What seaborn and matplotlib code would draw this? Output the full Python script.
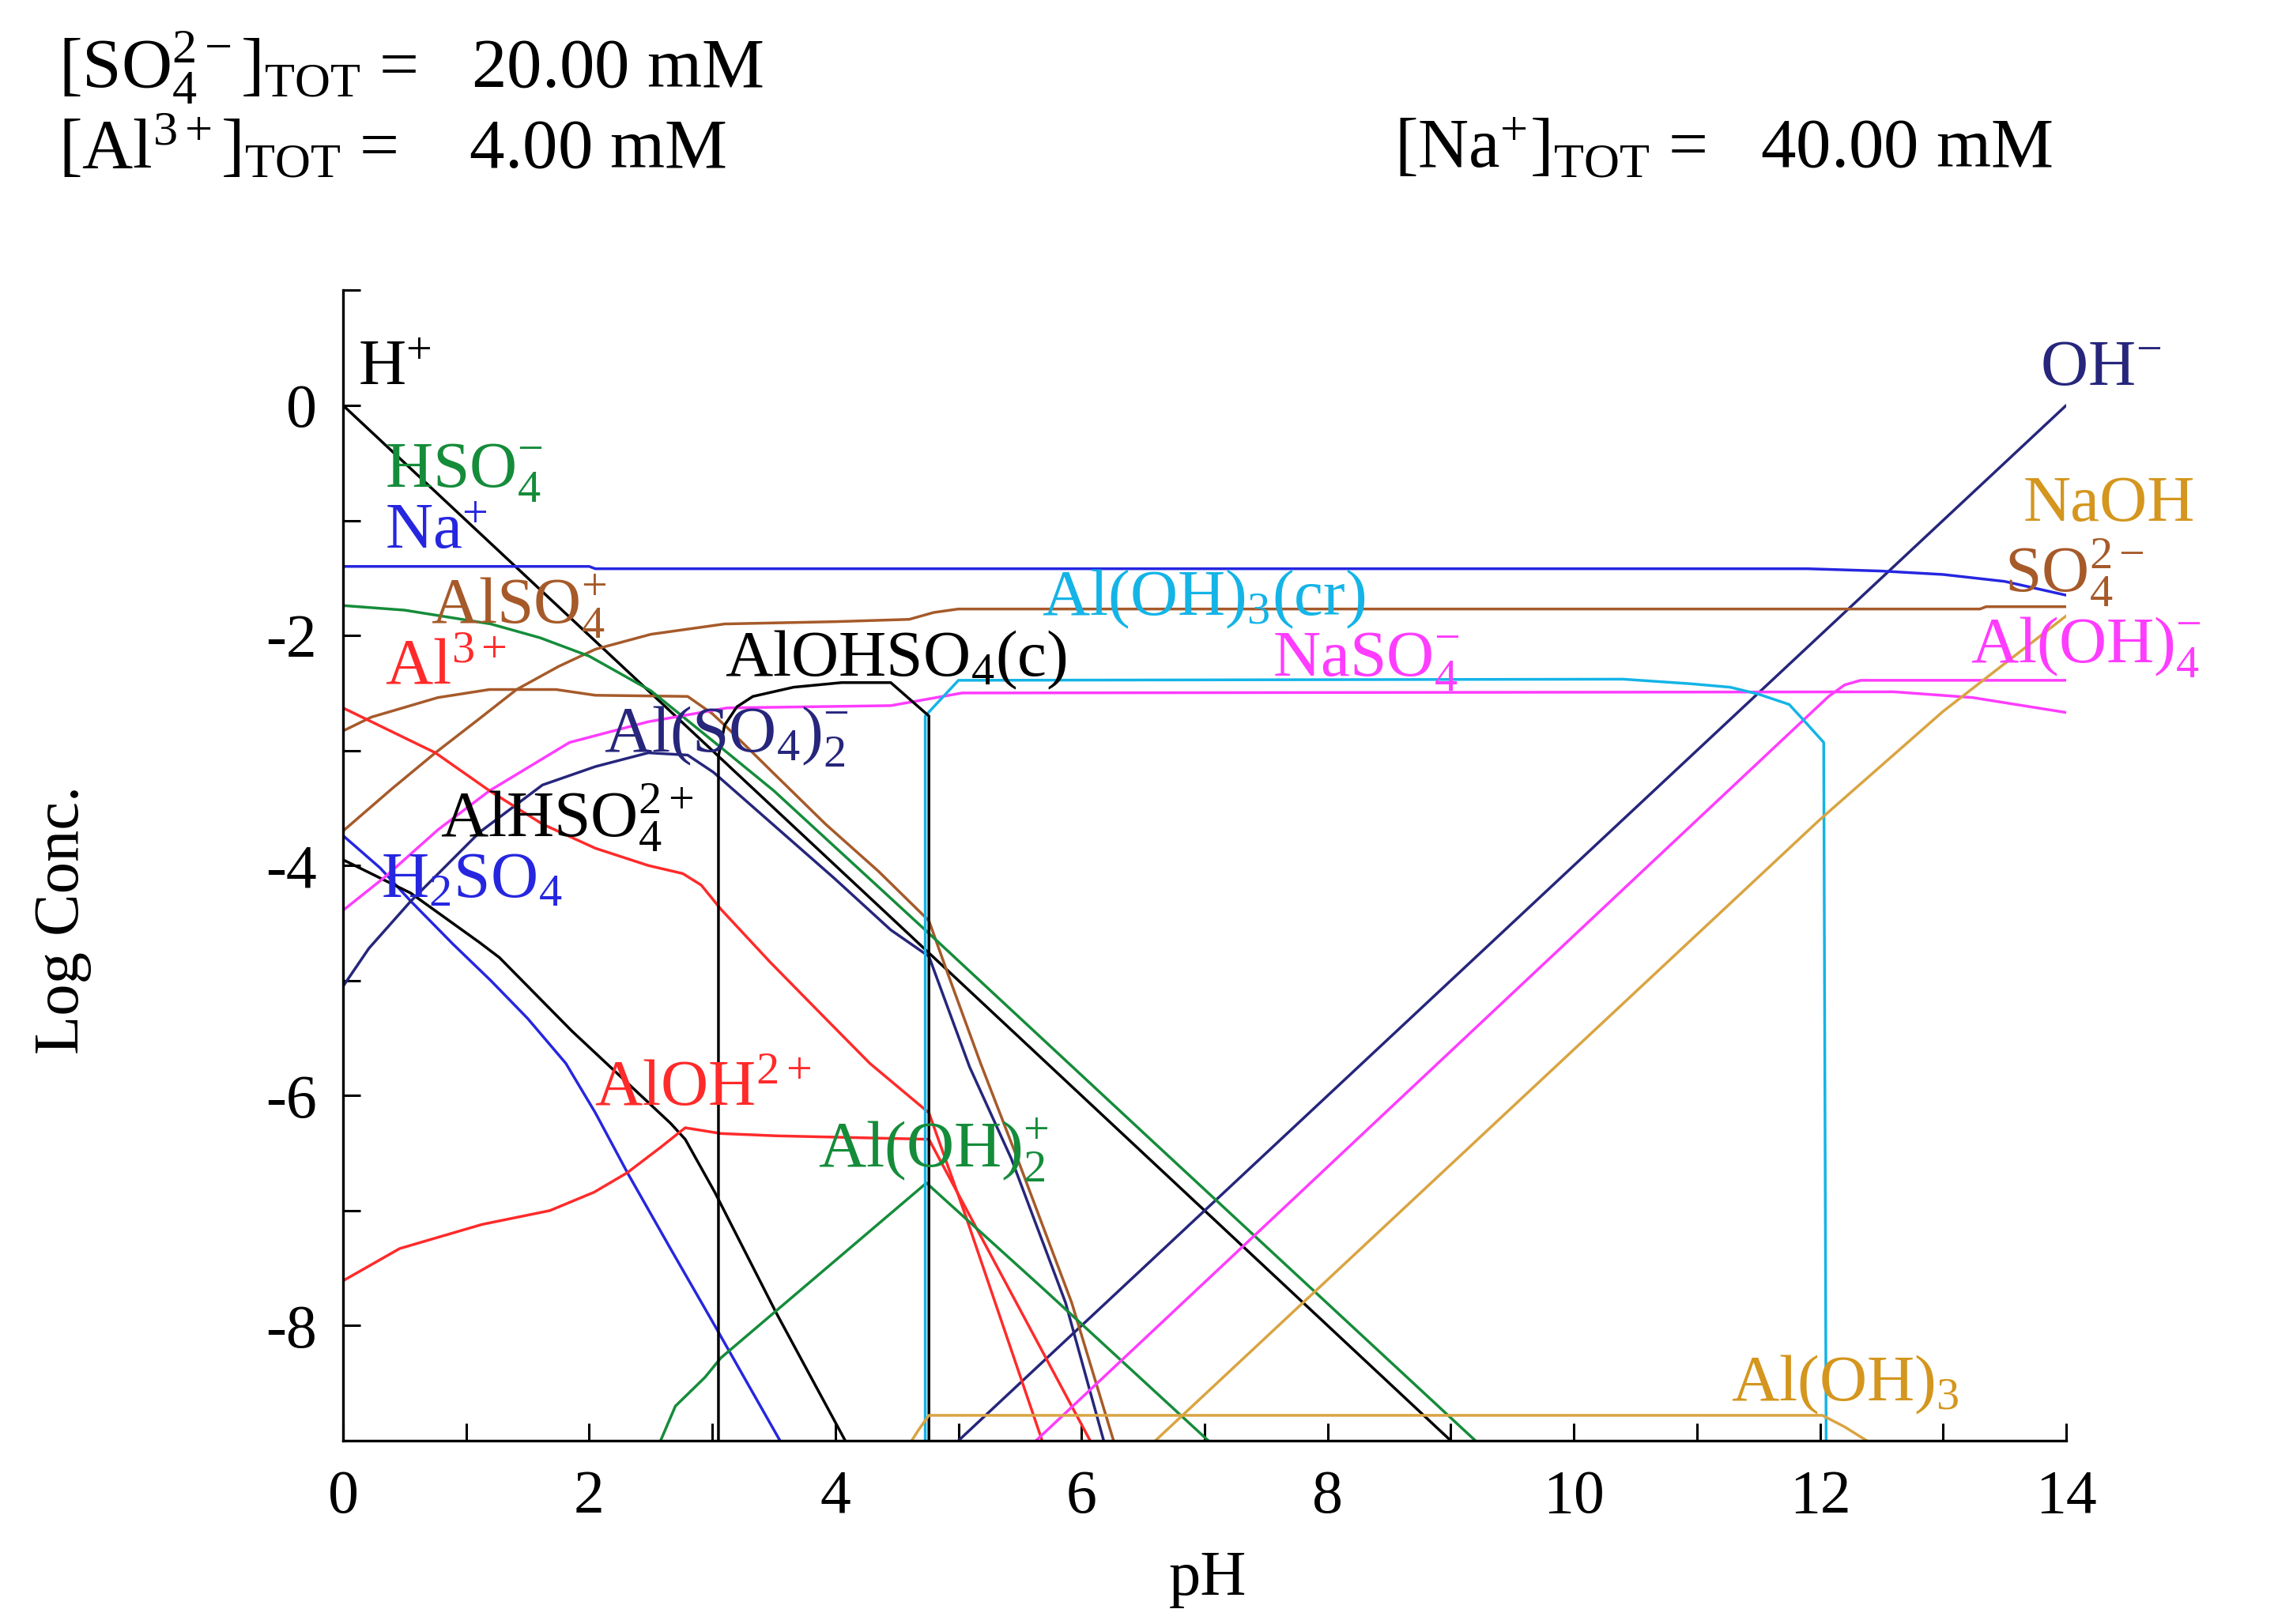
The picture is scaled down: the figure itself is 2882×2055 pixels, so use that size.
import pandas as pd
import seaborn as sns
import matplotlib.pyplot as plt

# Curves: pH and log concentration
h_ph = [0, 4.76, 9.0]
h_log = [0, -4.76, -9.0]

oh_ph = [5.0, 14.0]
oh_log = [-9.0, 0.0]

na_ph = [0, 2.0, 2.05, 11.9, 12.5, 13.0, 13.5, 14.0]
na_log = [-1.40, -1.40, -1.42, -1.42, -1.44, -1.47, -1.53, -1.65]

so4_ph = [0, 0.4, 0.75, 1.1, 1.41, 1.75, 2.05, 2.5, 3.1, 4.0, 4.6, 4.8, 5.0, 13.3, 13.35, 14.0]
so4_log = [-3.70, -3.33, -3.02, -2.73, -2.47, -2.27, -2.12, -1.99, -1.90, -1.88, -1.86, -1.80, -1.77, -1.77, -1.75, -1.75]

also4_ph = [0, 0.23, 0.77, 1.19, 1.73, 2.05, 2.8, 3.0, 3.12, 3.5, 3.92, 4.35, 4.76, 4.91, 5.18, 5.48, 5.92, 6.26]
also4_log = [-2.83, -2.71, -2.54, -2.47, -2.47, -2.52, -2.53, -2.68, -2.80, -3.20, -3.64, -4.05, -4.48, -4.93, -5.72, -6.55, -7.80, -9.0]

hso4_ph = [0, 0.5, 1.2, 1.6, 2.0, 2.5, 3.1, 3.5, 4.76, 6.6, 9.2]
hso4_log = [-1.74, -1.78, -1.90, -2.02, -2.18, -2.48, -3.00, -3.35, -4.59, -6.42, -9.0]

h2so4_ph = [0, 0.3, 0.55, 0.89, 1.2, 1.5, 1.81, 2.05, 2.31, 2.66, 3.02, 3.55]
h2so4_log = [-3.74, -4.02, -4.31, -4.68, -5.00, -5.33, -5.72, -6.15, -6.67, -7.33, -8.0, -9.0]

alhso4_ph = [0, 0.55, 1.11, 1.27, 1.86, 2.66, 2.78, 3.02, 3.52, 4.08]
alhso4_log = [-3.95, -4.24, -4.67, -4.80, -5.44, -6.24, -6.38, -6.84, -7.89, -9.0]

also42_ph = [0, 0.21, 0.55, 1.11, 1.62, 2.05, 2.48, 2.8, 3.01, 3.5, 3.99, 4.45, 4.76, 5.09, 5.43, 5.87, 6.18]
also42_log = [-5.05, -4.72, -4.31, -3.71, -3.30, -3.14, -3.02, -3.04, -3.19, -3.65, -4.11, -4.56, -4.79, -5.75, -6.55, -7.80, -9.0]

naso4_ph = [0, 0.34, 0.77, 1.19, 1.84, 2.48, 3.12, 4.45, 5.03, 12.6, 13.24, 14.0]
naso4_log = [-4.39, -4.10, -3.69, -3.35, -2.93, -2.75, -2.63, -2.61, -2.50, -2.49, -2.54, -2.67]

al_ph = [0, 0.75, 1.19, 1.62, 2.05, 2.48, 2.76, 2.91, 3.07, 3.47, 3.92, 4.28, 4.76, 5.06, 5.68]
al_log = [-2.63, -3.02, -3.35, -3.64, -3.85, -4.00, -4.07, -4.17, -4.38, -4.84, -5.33, -5.72, -6.15, -7.05, -9.0]

aloh_ph = [0, 0.46, 1.13, 1.68, 2.04, 2.31, 2.58, 2.78, 3.07, 3.52, 4.76, 5.14, 6.07]
aloh_log = [-7.61, -7.33, -7.12, -7.00, -6.84, -6.67, -6.45, -6.28, -6.33, -6.35, -6.38, -7.14, -9.0]

aloh2_ph = [2.58, 2.7, 2.94, 3.07, 4.74, 5.7, 7.03]
aloh2_log = [-9.0, -8.7, -8.45, -8.28, -6.76, -7.69, -9.0]

aloh4_ph = [5.63, 12.07, 12.2, 12.33, 14.0]
aloh4_log = [-9.0, -2.53, -2.43, -2.39, -2.39]

alohcr_ph = [4.73, 4.73, 5.0, 10.4, 10.95, 11.27, 11.5, 11.75, 11.87, 12.03, 12.05]
alohcr_log = [-9.0, -2.70, -2.39, -2.38, -2.42, -2.45, -2.51, -2.60, -2.74, -2.93, -9.0]

alohso4_ph = [3.05, 3.05, 3.1, 3.2, 3.33, 3.66, 4.05, 4.45, 4.76, 4.76]
alohso4_log = [-9.0, -3.05, -2.78, -2.62, -2.53, -2.45, -2.41, -2.41, -2.70, -9.0]

naoh_ph = [6.6, 12.0, 13.0, 14.0]
naoh_log = [-9.0, -3.6, -2.66, -1.83]

aloh3_ph = [4.62, 4.68, 4.76, 12.02, 12.2, 12.38]
aloh3_log = [-9.0, -8.9, -8.78, -8.78, -8.88, -9.0]

species = ['H+', 'OH-', 'Na+', 'SO4', 'AlSO4+', 'HSO4-', 'H2SO4', 'AlHSO4', 'Al(SO4)2-',
           'NaSO4-', 'Al3+', 'AlOH2+', 'Al(OH)2+', 'Al(OH)4-', 'Al(OH)3(cr)', 'AlOHSO4(c)',
           'NaOH', 'Al(OH)3']
curves = [(h_ph, h_log), (oh_ph, oh_log), (na_ph, na_log), (so4_ph, so4_log),
          (also4_ph, also4_log), (hso4_ph, hso4_log), (h2so4_ph, h2so4_log),
          (alhso4_ph, alhso4_log), (also42_ph, also42_log), (naso4_ph, naso4_log),
          (al_ph, al_log), (aloh_ph, aloh_log), (aloh2_ph, aloh2_log), (aloh4_ph, aloh4_log),
          (alohcr_ph, alohcr_log), (alohso4_ph, alohso4_log), (naoh_ph, naoh_log),
          (aloh3_ph, aloh3_log)]

black = '#000000'
green = '#158c3a'
blue = '#2626e0'
navy = '#26267c'
red = '#ff2a2a'
brown = '#a65a2a'
magenta = '#ff3cff'
cyan = '#14b4e6'
tan = '#d9a441'

palette = {'H+': black, 'OH-': navy, 'Na+': blue, 'SO4': brown, 'AlSO4+': brown,
           'HSO4-': green, 'H2SO4': blue, 'AlHSO4': black, 'Al(SO4)2-': navy,
           'NaSO4-': magenta, 'Al3+': red, 'AlOH2+': red, 'Al(OH)2+': green,
           'Al(OH)4-': magenta, 'Al(OH)3(cr)': cyan, 'AlOHSO4(c)': black,
           'NaOH': tan, 'Al(OH)3': tan}

# label text, left x (pH), baseline y (log conc), colour
labels = [
    ('H$^{+}$', 0.12, 0.18, black),
    ('HSO$_4^{-}$', 0.34, -0.71, green),
    ('Na$^{+}$', 0.34, -1.24, blue),
    ('AlSO$_4^{+}$', 0.71, -1.89, brown),
    ('Al$^{3+}$', 0.34, -2.42, red),
    ('AlOHSO$_4$(c)', 3.10, -2.35, black),
    ('Al(SO$_4$)$_2^{-}$', 2.12, -3.01, navy),
    ('AlHSO$_4^{2+}$', 0.79, -3.75, black),
    ('H$_2$SO$_4$', 0.31, -4.27, blue),
    ('AlOH$^{2+}$', 2.04, -6.09, red),
    ('Al(OH)$_2^{+}$', 3.86, -6.63, green),
    ('Al(OH)$_3$(cr)', 5.68, -1.82, cyan),
    ('NaSO$_4^{-}$', 7.55, -2.35, magenta),
    ('OH$^{-}$', 13.79, 0.18, navy),
    ('NaOH', 13.65, -1.00, '#d4961e'),
    ('SO$_4^{2-}$', 13.50, -1.62, brown),
    ('Al(OH)$_4^{-}$', 13.22, -2.23, magenta),
    ('Al(OH)$_3$', 11.28, -8.65, '#d4961e'),
]

frames = []
for name, (x, y) in zip(species, curves):
    frames.append(pd.DataFrame({'species': name, 'pH': x, 'logC': y}))
df = pd.concat(frames, ignore_index=True)

sns.set_style('ticks')
plt.rcParams['font.family'] = ['Liberation Serif', 'DejaVu Serif']
plt.rcParams['mathtext.fontset'] = 'custom'
plt.rcParams['mathtext.rm'] = 'Liberation Serif'
plt.rcParams['mathtext.it'] = 'Liberation Serif:italic'
plt.rcParams['mathtext.bf'] = 'Liberation Serif:bold'
plt.rcParams['axes.unicode_minus'] = False
plt.rcParams['text.color'] = 'black'
plt.rcParams['axes.labelcolor'] = 'black'
plt.rcParams['xtick.color'] = 'black'
plt.rcParams['ytick.color'] = 'black'

fig = plt.figure(figsize=(14.41, 10.275), dpi=200)
ax = fig.add_axes([0.1506, 0.1129, 0.907 - 0.1506, 0.8212 - 0.1129])

sns.lineplot(data=df, x='pH', y='logC', hue='species', hue_order=species,
             palette=palette, sort=False, estimator=None, legend=False,
             linewidth=1.25, ax=ax)

for txt, x, y, c in labels:
    ax.text(x, y, txt, color=c, fontsize=30, ha='left', va='baseline')

ax.set_xlim(0, 14)
ax.set_ylim(-9, 1)
ax.set_xticks(range(0, 15, 2))
ax.set_xticks(range(1, 14, 2), minor=True)
ax.set_yticks(range(-8, 1, 2))
ax.set_yticks([-7, -5, -3, -1, 1], minor=True)
ax.tick_params(which='both', direction='in', length=8, width=1.1, color='black')
ax.tick_params(axis='x', labelsize=28, pad=13, labelcolor='black')
ax.tick_params(axis='y', labelsize=28, pad=12, labelcolor='black')
sns.despine(ax=ax)
for s in ['left', 'bottom']:
    ax.spines[s].set_linewidth(1.2)
    ax.spines[s].set_color('black')

ax.set_xlabel('pH', fontsize=29, color='black')
ax.set_ylabel('Log Conc.', fontsize=29, color='black')
ax.xaxis.set_label_coords(0.502, -0.0955)
ax.yaxis.set_label_coords(-0.146, 0.453)

fig.text(0.0257, 0.946, r'[SO$_4^{2-}$]$_{\mathrm{TOT}}$ =   20.00 mM', fontsize=32, va='baseline', color='black')
fig.text(0.0257, 0.897, r'[Al$^{3+}$]$_{\mathrm{TOT}}$ =    4.00 mM', fontsize=32, va='baseline', color='black')
fig.text(0.612, 0.897, r'[Na$^{+}$]$_{\mathrm{TOT}}$ =   40.00 mM', fontsize=32, va='baseline', color='black')

fig.savefig('out.png', dpi=200, facecolor='white')
